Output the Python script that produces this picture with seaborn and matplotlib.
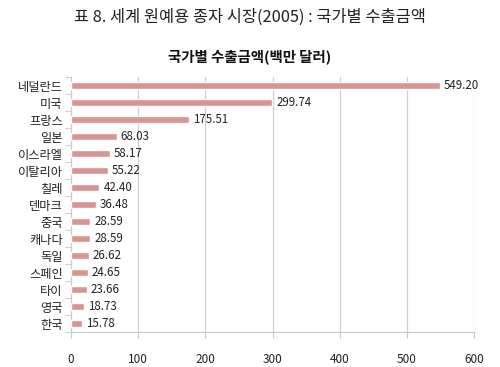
import numpy as np
import pandas as pd
import matplotlib
matplotlib.use("Agg")
import matplotlib.pyplot as plt
import seaborn as sns

# DATA.

countries = ["네덜란드", "미국", "프랑스", "일본", "이스라엘", "이탈리아", "칠레", "덴마크",
             "중국", "캐나다", "독일", "스페인", "타이", "영국", "한국"]
export_values = [549.20, 299.74, 175.51, 68.03, 58.17, 55.22, 42.40, 36.48,
                 28.59, 28.59, 26.62, 24.65, 23.66, 18.73, 15.78]
x_ticks = [0, 100, 200, 300, 400, 500, 600]

df = pd.DataFrame({"country": countries, "value": export_values})

# STYLE.

sns.set_style("white")
plt.rcParams["font.family"] = ["Noto Sans CJK KR", "DejaVu Sans"]

fig = plt.figure(figsize=(5.0, 3.67), dpi=100)
ax = fig.add_axes([0.142, 0.095, 0.806, 0.695])

sns.barplot(data=df, y="country", x="value", color="#D99594", saturation=1,
            width=0.45, ax=ax, zorder=3)

# Value labels.
for i, v in enumerate(export_values):
    ax.text(v + 6, i, f"{v:.2f}", va="center", ha="left", fontsize=8.3, color="#222222", zorder=4)

ax.set_xlim(0, 600)
ax.set_xticks(x_ticks)
ax.set_ylim(len(countries) - 0.5, -0.5)
ax.set_xlabel("")
ax.set_ylabel("")

ax.grid(axis="x", color="#D0D0D0", linewidth=0.9, zorder=0)
for side in ["top", "right"]:
    ax.spines[side].set_visible(False)
ax.spines["left"].set_color("#C8C8C8")
ax.spines["bottom"].set_color("#C8C8C8")

# Category boundary ticks (Excel style).
ax.set_yticks(np.arange(-0.5, len(countries), 1), minor=True)
ax.tick_params(axis="y", which="minor", length=4, color="#C8C8C8", left=True)
ax.tick_params(axis="y", which="major", length=0, labelsize=8.8, pad=6, labelcolor="#222222")
ax.tick_params(axis="x", length=4, color="#C8C8C8", bottom=True, labelsize=8.5, pad=11,
               labelcolor="#222222")

fig.text(0.5, 0.953, "표 8. 세계 원예용 종자 시장(2005) : 국가별 수출금액",
         ha="center", va="center", fontsize=11.8, color="#222222")
fig.text(0.5, 0.845, "국가별 수출금액(백만 달러)",
         ha="center", va="center", fontsize=10.4, fontweight="bold", color="#111111")

plt.savefig("out.png", dpi=100)
